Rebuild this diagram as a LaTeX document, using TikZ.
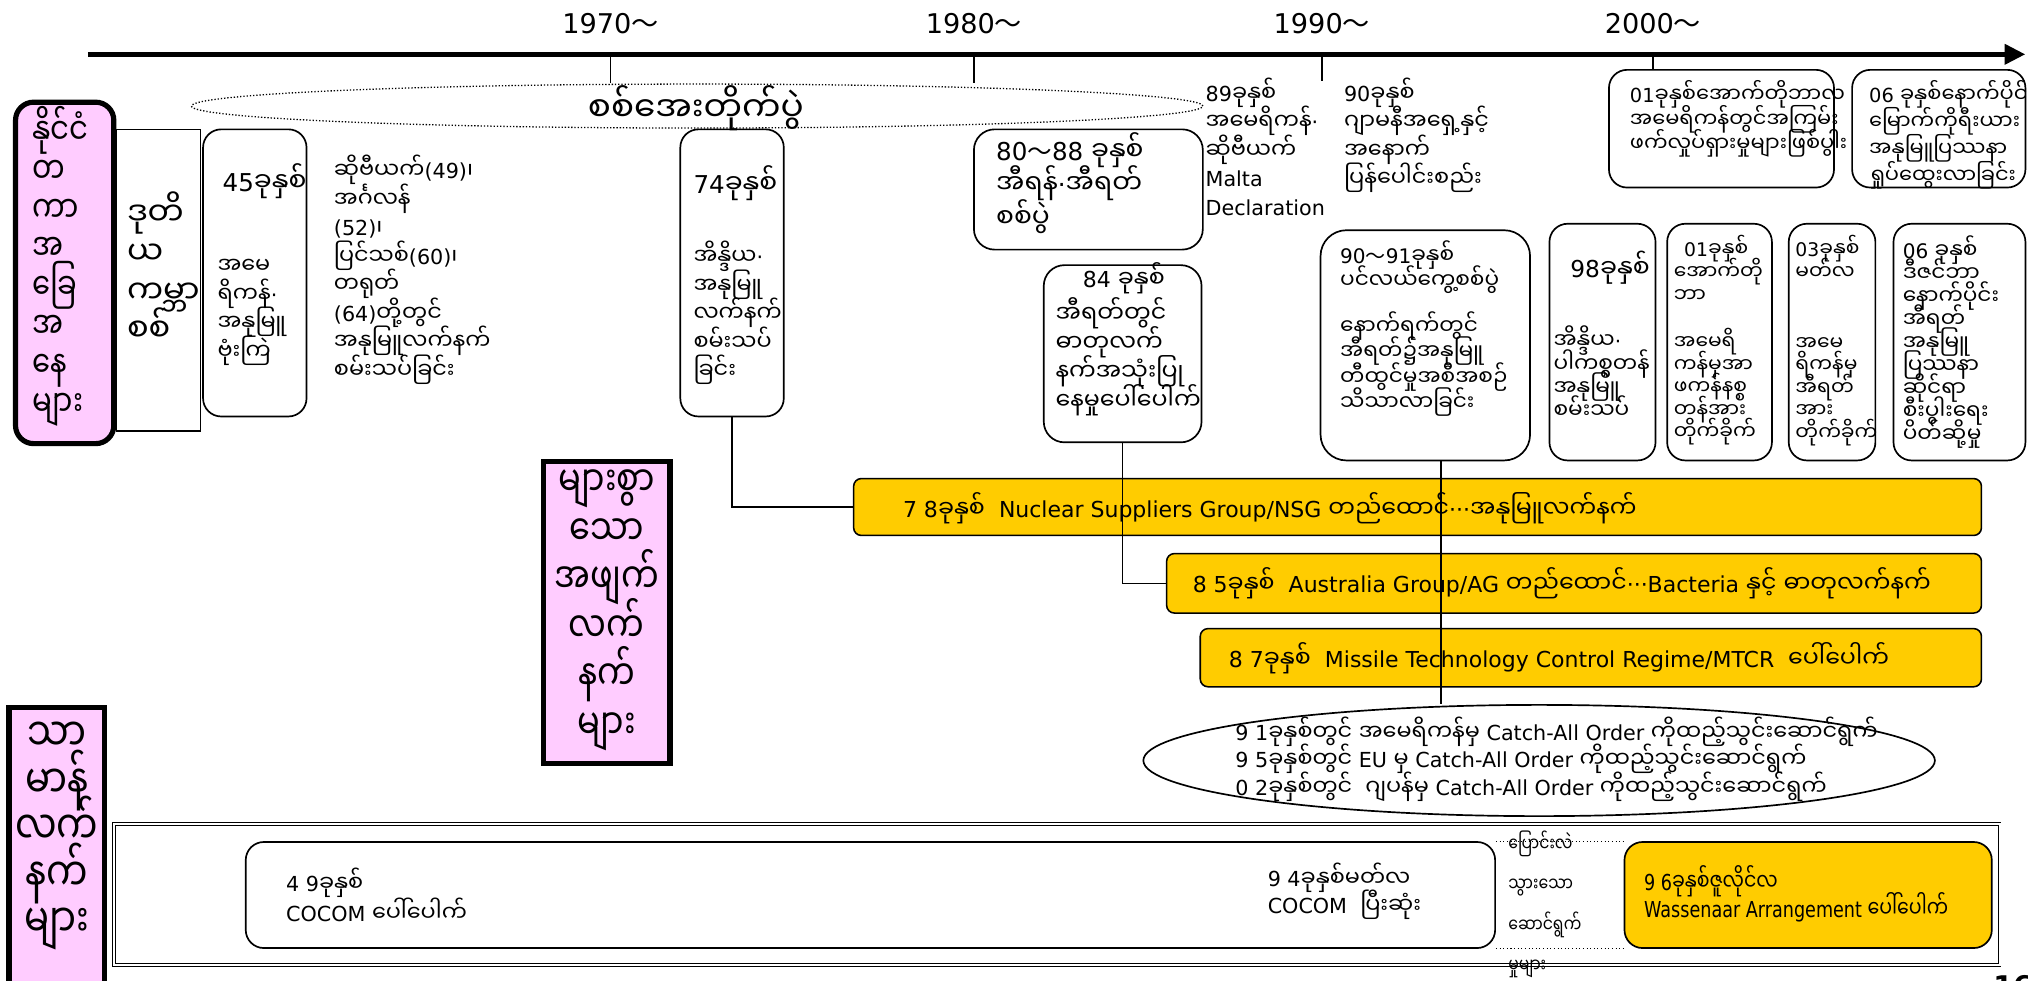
\documentclass[tikz,border=0pt]{standalone}
\usepackage{fontspec}
\setmainfont{DejaVu Sans}
\newfontfamily\mmfont[Script=Myanmar,Scale=1.08]{Noto Sans Myanmar UI}
\newfontfamily\mmnarrow[Script=Myanmar,Scale=1.08,FakeStretch=0.8]{Noto Sans Myanmar UI}
\newfontfamily\latnarrow[FakeStretch=0.8]{DejaVu Sans}
\newfontfamily\cjkfont{Noto Sans CJK JP}
\usetikzlibrary{arrows.meta,shapes.geometric}

\definecolor{pinkfill}{HTML}{FFCCFF}
\definecolor{barfill}{HTML}{FFCC00}

\newcommand\curmm{\mmfont}
\newcommand\curlat{\rmfamily}
\newcommand\narrowon{\latnarrow\let\curlat\latnarrow\let\curmm\mmnarrow}
\newcommand\fsz[2]{\fontsize{#1}{#2}\selectfont\lineskiplimit=-100pt\relax}
\newcommand\tld{{\cjkfont ～}}

% Burmese runs pick their own font
\newcount\mmcode
\mmcode="1000
\loop
  \XeTeXcharclass\mmcode=10
  \advance\mmcode by 1
\ifnum\mmcode<"10A0 \repeat
\XeTeXinterchartoks 0 10 = {\curmm}
\XeTeXinterchartoks 1 10 = {\curmm}
\XeTeXinterchartoks 2 10 = {\curmm}
\XeTeXinterchartoks 3 10 = {\curmm}
\XeTeXinterchartoks 4095 10 = {\curmm}
\XeTeXinterchartoks 10 0 = {\curlat}
\XeTeXinterchartoks 10 1 = {\curlat}
\XeTeXinterchartoks 10 2 = {\curlat}
\XeTeXinterchartoks 10 3 = {\curlat}
\XeTeXinterchartoks 10 4095 = {\curlat}
\XeTeXinterchartokenstate=1

\begin{document}
\begin{tikzpicture}[x=1pt,y=-1pt,
  box/.style={draw,line width=1.3pt,rounded corners=14pt,inner sep=0pt},
  sqbox/.style={draw,line width=1.3pt,inner sep=0pt},
  pinkbox/.style={draw,line width=4pt,fill=pinkfill,inner sep=0pt},
  bar/.style={draw,line width=1.2pt,fill=barfill,rounded corners=6pt,inner sep=0pt},
  txt/.style={inner sep=0pt,anchor=north west,align=left,font=\fsz{16}{22}},
  ntxt/.style={inner sep=0pt,anchor=west,align=left,font=\fsz{17}{22}},
  year/.style={inner sep=0pt,font=\fsz{21}{24}},
  link/.style={line width=1.2pt}]
\useasboundingbox (0,0) rectangle (1568,758);
% \draw [help lines,step=100] (0,0) grid (1568,758);

% time axis
\coordinate (tl0) at (68,42);
\coordinate (tl1) at (1566,42);
\draw[line width=4pt,-{Triangle[length=16pt,width=15pt]}] (tl0) -- (tl1);
\node[year] (y70) at (472,18) {1970\tld};
\node[year] (y80) at (753,18) {1980\tld};
\node[year] (y90) at (1022,18) {1990\tld};
\node[year] (y00) at (1278,18) {2000\tld};
\coordinate (k90) at (1022,63);

% cold war
\node[draw,ellipse,line width=1pt,dash pattern=on 1pt off 1.5pt,minimum width=782,minimum height=34,inner sep=0pt] (cold) at (539,82) {};
\node[inner sep=0pt,font=\fsz{24.5}{26}] (coldt) at (538,84) {စစ်အေးတိုက်ပွဲ};

% international situation
\node[sqbox,minimum width=65,minimum height=233] (bww) at (122.5,216.5) {};
\node[pinkbox,rounded corners=14pt,minimum width=76,minimum height=264] (pk1) at (50,211) {};
\node[txt,font=\narrowon\fsz{26}{30}] (pk1t) at (25,82) {နိုင်ငံ\\တ\\ကာ\\အ\\ခြေ\\အ\\နေ\\များ};
\node[txt,font=\fsz{23}{30}] (bwt) at (98,148) {ဒုတိ\\ယ\\ကမ္ဘာ\\စစ်};

\node[box,minimum width=80,minimum height=222] (b45) at (197,211) {};
\node[txt] (b45t) at (168,126) {\hspace{4pt}{\fsz{19}{22}45ခုနှစ်}\\[42pt]အမေ\\ရိကန်·\\အနုမြူ\\ဗုံးကြဲ};
\node[txt] (sovt) at (258,120) {ဆိုဗီယက်(49)၊\\အင်္ဂလန်\\(52)၊\\ပြင်သစ်(60)၊\\တရုတ်\\(64)တို့တွင်\\အနုမြူလက်နက်\\စမ်းသပ်ခြင်း};

\node[box,minimum width=80,minimum height=222] (b74) at (566,211) {};
\node[txt] (b74t) at (536,128) {{\fsz{19}{22}74ခုနှစ်}\\[33pt]အိန္ဒိယ·\\အနုမြူ\\လက်နက်\\စမ်းသပ်\\ခြင်း};

\node[box,rounded corners=16pt,minimum width=177,minimum height=93] (b8088) at (841.5,146.5) {};
\node[txt,font=\fsz{19}{26}] (b8088t) at (770,102) {80\tld88 ခုနှစ်\\အီရန်·အီရတ်\\စစ်ပွဲ};

\node[box,rounded corners=16pt,minimum width=122,minimum height=137] (b84) at (868,273.5) {};
\node[txt,font=\fsz{17}{22.5}] (b84t) at (816,203) {\hspace{21pt}84 ခုနှစ်\\[4pt]အီရတ်တွင်\\ဓာတုလက်\\နက်အသုံးပြု\\နေမှုပေါ်ပေါက်};

\node[txt] (t89) at (932,60) {89ခုနှစ်\\အမေရိကန်·\\ဆိုဗီယက်\\Malta\\Declaration};
\node[txt] (t90) at (1039,60) {90ခုနှစ်\\ဂျာမနီအရှေ့နှင့်\\အနောက်\\ပြန်ပေါင်းစည်း};

\node[box,minimum width=174,minimum height=91] (b01top) at (1331,99.5) {};
\node[txt,font=\fsz{15}{19}] (b01topt) at (1260,62) {01ခုနှစ်အောက်တိုဘာလ\\အမေရိကန်တွင်အကြမ်း\\ဖက်လှုပ်ရှားမှုများဖြစ်ပွါး};
\node[box,minimum width=134,minimum height=91] (b06top) at (1499,99.5) {};
\node[txt,font=\fsz{15}{21}] (b06topt) at (1445,62) {06 ခုနှစ်နောက်ပိုင်း\\မြောက်ကိုရီးယား\\အနုမြူပြဿနာ\\ရှုပ်ထွေးလာခြင်း};

\node[box,rounded corners=20pt,minimum width=162,minimum height=178] (b9091) at (1102,267) {};
\node[txt,font=\fsz{15.5}{19.5}] (b9091t) at (1036,186) {90\tld91ခုနှစ်\\ပင်လယ်ကွေ့စစ်ပွဲ\\[16pt]နောက်ရက်တွင်\\အီရတ်၌အနုမြူ\\တီထွင်မှုအစီအစဉ်\\သိသာလာခြင်း};

\node[box,minimum width=82,minimum height=183] (b98) at (1239,264.5) {};
\node[txt,font=\fsz{15.5}{18}] (b98t) at (1201,194) {\hspace{13pt}{\fsz{18}{18}98ခုနှစ်}\\[37pt]အိန္ဒိယ·\\ပါကစ္စတန်\\အနုမြူ\\စမ်းသပ်};
\node[box,minimum width=81,minimum height=183] (b01) at (1329.5,264.5) {};
\node[txt,font=\fsz{14.5}{17.5}] (b01t) at (1294,182) {\hspace{8pt}01ခုနှစ်\\အောက်တို\\ဘာ\\[19pt]အမေရိ\\ကန်မှအာ\\ဖကန်နစ္စ\\တန်အား\\တိုက်ခိုက်};
\node[box,minimum width=67,minimum height=183] (b03) at (1416.5,264.5) {};
\node[txt,font=\fsz{14.5}{17.5}] (b03t) at (1388,182) {03ခုနှစ်\\မတ်လ\\[37pt]အမေ\\ရိကန်မှ\\အီရတ်\\အား\\တိုက်ခိုက်};
\node[box,minimum width=102,minimum height=183] (b06) at (1515,264.5) {};
\node[txt,font=\fsz{15.5}{17.75}] (b06t) at (1471,182) {06 ခုနှစ်\\ဒီဇင်ဘာ\\နောက်ပိုင်း\\အီရတ်\\အနုမြူ\\ပြဿနာ\\ဆိုင်ရာ\\စီးပွါးရေး\\ပိတ်ဆို့မှု};

% weapons of mass destruction
\node[pinkbox,minimum width=98,minimum height=233] (pk2) at (469,473.5) {};
\node[inner sep=0pt,anchor=north,align=center,font=\narrowon\fsz{30}{37.5}] (pk2t) at (469,363) {များစွာ\\သော\\အဖျက်\\လက်\\နက်\\များ};

\node[bar,minimum width=872,minimum height=44] (bar78) at (1096,392) {};
\node[ntxt] (bar78t) at (698,393) {7 8ခုနှစ်\ \ Nuclear Suppliers Group/NSG တည်ထောင်···အနုမြူလက်နက်};
\node[bar,minimum width=630,minimum height=46] (bar85) at (1217,451) {};
\node[ntxt] (bar85t) at (922,451) {8 5ခုနှစ်\ \ Australia Group/AG တည်ထောင်···Bacteria နှင့် ဓာတုလက်နက်};
\node[bar,minimum width=604,minimum height=45] (bar87) at (1230,508.5) {};
\node[ntxt] (bar87t) at (950,509) {8 7ခုနှစ်\ \ Missile Technology Control Regime/MTCR\ \ ပေါ်ပေါက်};

\node[draw,ellipse,line width=1.3pt,minimum width=612,minimum height=86,inner sep=0pt] (ell) at (1190,588) {};
\node[ntxt,font=\fsz{16}{21.5}] (ellt) at (955,587) {9 1ခုနှစ်တွင် အမေရိကန်မှ Catch-All Order ကိုထည့်သွင်းဆောင်ရွက်\\9 5ခုနှစ်တွင် EU မှ Catch-All Order ကိုထည့်သွင်းဆောင်ရွက်\\0 2ခုနှစ်တွင်\ \ ဂျပန်မှ Catch-All Order ကိုထည့်သွင်းဆောင်ရွက်};

% conventional weapons
\node[pinkbox,minimum width=74,minimum height=226] (pk3) at (44,660) {};
\node[inner sep=0pt,anchor=north,align=center,font=\narrowon\fsz{33}{36}] (pk3t) at (44,558) {သာ\\မာန်\\လက်\\နက်\\များ};

\node[draw,double,double distance=1.5pt,line width=0.6pt,minimum width=1458,minimum height=109,inner sep=0pt] (outer) at (817,691.5) {};
\node[box,minimum width=966,minimum height=82] (bcocom) at (673,692) {};
\node[ntxt,font=\fsz{16}{23}] (c49t) at (221,692) {4 9ခုနှစ်\\COCOM ပေါ်ပေါက်};
\node[ntxt,font=\fsz{16}{21}] (c94t) at (980,689) {9 4ခုနှစ်မတ်လ\\COCOM\ \ ပြီးဆုံး};
\node[box,fill=barfill,minimum width=284,minimum height=82] (bwa) at (1398,692) {};
\node[ntxt,font=\narrowon\fsz{17}{21}] (wat) at (1271,691) {9 6ခုနှစ်ဇူလိုင်လ\\Wassenaar Arrangement ပေါ်ပေါက်};
\node[txt,font=\narrowon\fsz{14}{31.3}] (midt) at (1166,642) {ပြောင်းလဲ\\သွားသော\\ဆောင်ရွက်\\မှုများ};
\draw[dotted,line width=0.8pt] (bcocom.north east) -- (bwa.north west);
\draw[dotted,line width=0.8pt] (bcocom.south east) -- (bwa.south west);
\node[inner sep=0pt,anchor=north west,font=\bfseries\fsz{22}{22}] (pgno) at (1541,754) {16};

% links
\draw[link] (y70 |- tl0) -- (y70 |- cold.north);
\draw[link] (y80 |- tl0) -- (y80 |- cold.north);
\draw[link] (y90 |- tl0) -- (k90);
\draw[link] (y00 |- tl0) -- (y00 |- b01top.north);
\draw[link] (b74.south) |- (bar78.west);
\draw[link] (b84.south) |- (bar85.west);
\draw[link] ([xshift=12]b9091.south) -- ([xshift=12]b9091.south |- ell.north);
\end{tikzpicture}
\end{document}
